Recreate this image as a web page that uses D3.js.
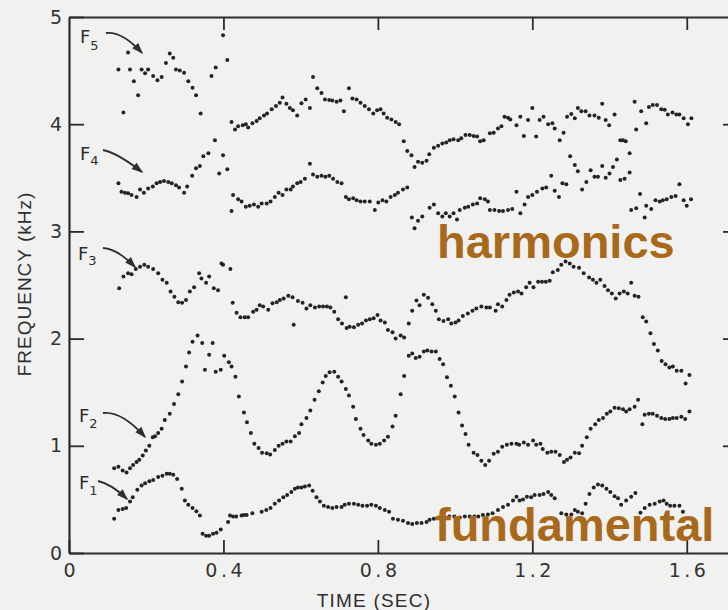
<!DOCTYPE html>
<html>
<head>
<meta charset="utf-8">
<script src="https://cdn.jsdelivr.net/npm/d3@7"></script>
<style>
  html, body { margin: 0; padding: 0; background: #f1f1ef; }
  svg { display: block; }
  .axis .domain { stroke: #2b2b2b; stroke-width: 2.2; }
  .axis .tick line { stroke: #2b2b2b; stroke-width: 1.8; }
  .axis text { font-family: "DejaVu Sans", sans-serif; font-size: 19px; fill: #333; }
  .x-axis text { letter-spacing: 3.5px; }
</style>
</head>
<body>
<div id="chart"></div>
<script>
const X_TICKS = [0, 0.4, 0.8, 1.2, 1.6];
const Y_TICKS = [0, 1, 2, 3, 4, 5];
const X_MAX = 1.712;

// [time (s), frequency (kHz)]
const F1 = [[.117,.32],[.128,.40],[.139,.41],[.148,.42],[.158,.48],[.165,.52],[.177,.59],[.188,.63],[.197,.65],[.208,.67],[.218,.68],[.231,.71],[.242,.72],[.253,.74],[.261,.74],[.270,.73],[.280,.69],[.292,.60],[.300,.49],[.309,.45],[.320,.42],[.330,.39],[.339,.35],[.346,.18],[.355,.16],[.363,.16],[.373,.18],[.382,.19],[.393,.22],[.412,.29],[.417,.35],[.425,.34],[.433,.34],[.447,.35],[.453,.355],[.460,.355],[.475,.37],[.499,.385],[.511,.40],[.522,.42],[.533,.46],[.544,.49],[.555,.52],[.565,.54],[.576,.57],[.585,.60],[.593,.61],[.602,.61],[.611,.62],[.622,.63],[.631,.58],[.641,.52],[.650,.48],[.660,.44],[.671,.43],[.682,.42],[.693,.43],[.706,.43],[.714,.45],[.725,.46],[.738,.46],[.749,.45],[.760,.44],[.772,.44],[.783,.45],[.795,.44],[.805,.42],[.818,.40],[.829,.385],[.839,.32],[.852,.31],[.865,.30],[.878,.28],[.889,.27],[.901,.28],[.913,.28],[.926,.29],[.934,.31],[.945,.32],[.958,.33],[.972,.33],[.985,.34],[.998,.34],[1.012,.33],[1.025,.34],[1.038,.34],[1.05,.34],[1.06,.34],[1.072,.355],[1.085,.36],[1.097,.37],[1.111,.40],[1.124,.43],[1.137,.45],[1.150,.49],[1.159,.525],[1.167,.49],[1.176,.50],[1.186,.525],[1.197,.52],[1.206,.54],[1.219,.54],[1.229,.55],[1.241,.57],[1.249,.54],[1.258,.51],[1.275,.37],[1.288,.36],[1.301,.36],[1.310,.40],[1.318,.385],[1.329,.37],[1.338,.46],[1.348,.55],[1.359,.61],[1.370,.64],[1.381,.63],[1.392,.60],[1.402,.57],[1.413,.53],[1.422,.51],[1.430,.45],[1.443,.49],[1.456,.525],[1.467,.56],[1.480,.375],[1.491,.42],[1.504,.45],[1.517,.46],[1.530,.48],[1.540,.49],[1.548,.46],[1.557,.44],[1.568,.44],[1.581,.44],[1.590,.385],[1.603,.25]];

const F2 = [[.117,.79],[.128,.805],[.139,.77],[.149,.75],[.158,.79],[.166,.82],[.175,.85],[.182,.87],[.191,.91],[.199,.955],[.208,1.00],[.217,1.08],[.223,1.09],[.231,1.12],[.240,1.16],[.248,1.24],[.261,1.30],[.272,1.39],[.283,1.48],[.293,1.60],[.303,1.74],[.311,1.87],[.320,1.97],[.333,2.03],[.345,1.96],[.352,1.71],[.363,1.85],[.372,1.96],[.380,1.69],[.393,1.71],[.402,1.84],[.414,1.78],[.421,1.74],[.431,1.645],[.440,1.46],[.453,1.31],[.461,1.22],[.471,1.12],[.480,1.02],[.491,.98],[.500,.935],[.512,.93],[.521,.92],[.533,.96],[.543,1.00],[.553,1.02],[.563,1.04],[.574,1.04],[.585,1.09],[.596,1.12],[.602,1.20],[.615,1.26],[.625,1.33],[.636,1.43],[.647,1.51],[.657,1.59],[.665,1.65],[.675,1.685],[.687,1.69],[.697,1.645],[.706,1.60],[.717,1.53],[.725,1.47],[.736,1.365],[.743,1.25],[.755,1.16],[.763,1.10],[.775,1.05],[.783,1.02],[.795,1.01],[.805,1.02],[.816,1.05],[.826,1.085],[.838,1.18],[.846,1.28],[.859,1.48],[.868,1.65],[.880,1.84],[.889,1.86],[.898,1.82],[.908,1.83],[.919,1.88],[.928,1.89],[.939,1.88],[.950,1.88],[.960,1.81],[.969,1.76],[.979,1.64],[.989,1.56],[.999,1.46],[1.009,1.31],[1.018,1.19],[1.027,1.11],[1.035,1.01],[1.048,.935],[1.058,.915],[1.068,.86],[1.078,.82],[1.088,.86],[1.100,.925],[1.111,.945],[1.122,.99],[1.134,1.01],[1.146,1.02],[1.159,1.02],[1.166,1.01],[1.178,1.03],[1.189,1.01],[1.202,1.05],[1.210,1.01],[1.221,1.02],[1.227,.97],[1.239,.935],[1.249,.945],[1.260,.945],[1.271,.915],[1.282,.85],[1.290,.87],[1.299,.89],[1.310,.935],[1.321,.93],[1.329,1.00],[1.341,1.08],[1.351,1.16],[1.363,1.20],[1.372,1.24],[1.383,1.26],[1.393,1.30],[1.402,1.32],[1.413,1.355],[1.424,1.35],[1.435,1.34],[1.443,1.32],[1.452,1.34],[1.465,1.365],[1.474,1.43],[1.485,1.20],[1.491,1.29],[1.502,1.30],[1.512,1.30],[1.523,1.28],[1.534,1.26],[1.544,1.25],[1.555,1.25],[1.564,1.26],[1.574,1.26],[1.586,1.27],[1.596,1.25],[1.607,1.32]];

const F3 = [[.130,2.47],[.141,2.58],[.153,2.61],[.162,2.60],[.173,2.65],[.184,2.67],[.195,2.69],[.205,2.67],[.218,2.65],[.231,2.61],[.242,2.55],[.253,2.52],[.263,2.44],[.273,2.39],[.283,2.34],[.293,2.335],[.303,2.36],[.313,2.44],[.324,2.48],[.337,2.61],[.343,2.56],[.355,2.52],[.363,2.58],[.375,2.47],[.386,2.45],[.395,2.70],[.399,2.69],[.418,2.65],[.424,2.335],[.434,2.24],[.444,2.20],[.455,2.20],[.464,2.20],[.477,2.25],[.486,2.27],[.494,2.31],[.503,2.30],[.516,2.27],[.527,2.33],[.538,2.34],[.546,2.36],[.556,2.375],[.568,2.40],[.579,2.385],[.582,2.13],[.593,2.35],[.605,2.335],[.615,2.28],[.625,2.31],[.637,2.29],[.648,2.30],[.658,2.30],[.668,2.30],[.677,2.29],[.687,2.25],[.697,2.18],[.707,2.14],[.717,2.385],[.719,2.10],[.727,2.11],[.738,2.105],[.749,2.13],[.759,2.14],[.769,2.17],[.779,2.18],[.789,2.19],[.799,2.22],[.807,2.17],[.818,2.15],[.826,2.08],[.838,2.06],[.846,2.00],[.859,2.03],[.868,2.01],[.880,2.14],[.889,2.26],[.900,2.355],[.908,2.31],[.919,2.41],[.930,2.38],[.941,2.32],[.950,2.26],[.958,2.18],[.970,2.165],[.982,2.18],[.990,2.14],[1.001,2.15],[1.009,2.17],[1.020,2.21],[1.033,2.235],[1.045,2.26],[1.055,2.28],[1.068,2.30],[1.081,2.29],[1.090,2.29],[1.105,2.26],[1.111,2.32],[1.122,2.30],[1.133,2.36],[1.141,2.41],[1.152,2.43],[1.163,2.44],[1.172,2.42],[1.184,2.48],[1.193,2.52],[1.203,2.48],[1.215,2.53],[1.225,2.53],[1.235,2.53],[1.245,2.54],[1.253,2.62],[1.266,2.64],[1.275,2.69],[1.286,2.72],[1.297,2.70],[1.307,2.67],[1.321,2.66],[1.333,2.61],[1.347,2.57],[1.357,2.55],[1.366,2.52],[1.376,2.55],[1.387,2.49],[1.396,2.45],[1.406,2.42],[1.416,2.375],[1.426,2.42],[1.437,2.44],[1.447,2.42],[1.456,2.52],[1.465,2.40],[1.475,2.39],[1.486,2.20],[1.495,2.16],[1.506,2.05],[1.515,1.95],[1.525,1.89],[1.535,1.79],[1.545,1.76],[1.555,1.73],[1.564,1.74],[1.574,1.70],[1.586,1.70],[1.597,1.58],[1.607,1.66]];

const F4 = [[.128,3.45],[.136,3.37],[.145,3.36],[.153,3.355],[.162,3.34],[.175,3.32],[.184,3.39],[.194,3.36],[.205,3.40],[.217,3.42],[.227,3.45],[.236,3.46],[.246,3.47],[.257,3.46],[.266,3.45],[.277,3.43],[.285,3.41],[.298,3.36],[.306,3.42],[.319,3.52],[.329,3.59],[.339,3.61],[.348,3.70],[.361,3.73],[.378,3.85],[.389,3.54],[.399,3.71],[.410,3.58],[.421,3.19],[.425,3.34],[.438,3.30],[.447,3.28],[.458,3.23],[.468,3.24],[.479,3.25],[.490,3.23],[.499,3.26],[.512,3.26],[.522,3.28],[.533,3.32],[.543,3.36],[.553,3.34],[.563,3.39],[.574,3.39],[.580,3.42],[.591,3.45],[.600,3.46],[.611,3.49],[.624,3.63],[.632,3.53],[.643,3.51],[.654,3.52],[.664,3.51],[.674,3.52],[.684,3.49],[.695,3.46],[.706,3.45],[.717,3.32],[.725,3.30],[.736,3.31],[.745,3.29],[.755,3.28],[.766,3.28],[.779,3.28],[.792,3.20],[.801,3.27],[.812,3.29],[.822,3.28],[.833,3.32],[.844,3.34],[.852,3.36],[.865,3.39],[.876,3.41],[.888,3.13],[.895,3.03],[.904,3.10],[.915,3.14],[.934,3.22],[.945,3.25],[.956,3.17],[.967,3.14],[.976,3.17],[.986,3.14],[.996,3.17],[1.005,3.11],[1.012,3.20],[1.025,3.22],[1.034,3.23],[1.046,3.25],[1.057,3.26],[1.065,3.31],[1.077,3.30],[1.085,3.28],[1.090,3.20],[1.102,3.20],[1.114,3.19],[1.124,3.19],[1.137,3.20],[1.148,3.21],[1.159,3.37],[1.169,3.17],[1.180,3.25],[1.189,3.32],[1.200,3.34],[1.212,3.37],[1.226,3.40],[1.236,3.41],[1.249,3.52],[1.258,3.38],[1.269,3.32],[1.278,3.45],[1.288,3.44],[1.298,3.70],[1.310,3.62],[1.318,3.56],[1.329,3.39],[1.340,3.46],[1.351,3.57],[1.361,3.51],[1.370,3.51],[1.381,3.61],[1.390,3.50],[1.400,3.54],[1.409,3.60],[1.419,3.67],[1.428,3.85],[1.435,3.85],[1.442,3.84],[1.452,3.73],[1.452,3.55],[1.439,3.49],[1.428,3.48],[1.456,3.20],[1.469,3.215],[1.479,3.35],[1.491,3.13],[1.495,3.24],[1.508,3.21],[1.519,3.29],[1.530,3.28],[1.538,3.29],[1.548,3.30],[1.560,3.32],[1.571,3.33],[1.581,3.44],[1.592,3.29],[1.600,3.24],[1.611,3.30]];

const F5 = [[.128,4.51],[.141,4.11],[.153,4.67],[.158,4.51],[.168,4.40],[.179,4.27],[.188,4.51],[.197,4.475],[.205,4.51],[.218,4.45],[.229,4.41],[.240,4.44],[.251,4.57],[.261,4.66],[.270,4.62],[.277,4.51],[.287,4.50],[.298,4.48],[.309,4.40],[.320,4.34],[.329,4.27],[.341,4.10],[.369,4.45],[.380,4.53],[.399,4.83],[.410,4.60],[.421,4.02],[.430,3.95],[.438,3.98],[.450,3.99],[.458,4.00],[.464,3.97],[.475,4.01],[.486,4.03],[.494,4.055],[.505,4.08],[.513,4.10],[.525,4.14],[.536,4.17],[.546,4.20],[.553,4.25],[.563,4.19],[.572,4.15],[.580,4.13],[.591,4.08],[.602,4.195],[.613,4.23],[.624,4.15],[.632,4.44],[.643,4.335],[.654,4.29],[.663,4.23],[.674,4.225],[.682,4.22],[.693,4.21],[.703,4.22],[.712,4.12],[.725,4.335],[.734,4.24],[.745,4.23],[.755,4.20],[.766,4.17],[.777,4.14],[.788,4.10],[.798,4.13],[.807,4.14],[.815,4.10],[.824,4.06],[.835,4.045],[.846,4.02],[.855,4.00],[.867,3.84],[.876,3.75],[.887,3.71],[.895,3.60],[.904,3.65],[.915,3.64],[.926,3.66],[.933,3.72],[.945,3.78],[.956,3.80],[.967,3.82],[.977,3.83],[.986,3.85],[.996,3.86],[1.008,3.85],[1.016,3.87],[1.027,3.90],[1.038,3.90],[1.048,3.89],[1.057,3.885],[1.065,3.84],[1.074,3.85],[1.090,3.915],[1.100,3.92],[1.111,3.96],[1.120,3.98],[1.128,4.07],[1.137,4.06],[1.143,4.045],[1.159,3.99],[1.169,4.07],[1.178,3.89],[1.189,4.04],[1.200,4.15],[1.210,3.885],[1.219,4.04],[1.229,4.07],[1.241,4.00],[1.252,4.01],[1.258,3.96],[1.271,3.85],[1.281,3.92],[1.290,4.07],[1.301,4.095],[1.310,4.055],[1.318,4.15],[1.327,4.12],[1.338,4.12],[1.348,4.08],[1.361,4.08],[1.372,4.06],[1.381,4.19],[1.390,4.04],[1.399,3.99],[1.413,4.09],[1.465,4.21],[1.469,3.95],[1.482,4.12],[1.495,4.01],[1.502,4.16],[1.512,4.18],[1.523,4.18],[1.534,4.14],[1.543,4.135],[1.551,4.09],[1.563,4.11],[1.573,4.09],[1.581,4.09],[1.592,4.055],[1.603,4.00],[1.612,4.055]];

const FORMANTS = [F1, F2, F3, F4, F5];
const FORMANT_NAMES = ["1", "2", "3", "4", "5"];

const W = 728, H = 610;
const inkColor = "#242424";
const brown = "#a8691c";
const labelFont = "DejaVu Sans, sans-serif";

const svg = d3.select("#chart").append("svg")
  .attr("width", W)
  .attr("height", H);

svg.append("rect").attr("width", W).attr("height", H).attr("fill", "#f1f1ef");

const x = d3.scaleLinear().domain([0, X_MAX]).range([69, 730]);
const y = d3.scaleLinear().domain([0, 5]).range([553, 17]);

// frame + ticks (all ticks point inward)
svg.append("g")
  .attr("class", "axis x-axis")
  .attr("transform", `translate(0,${y(0)})`)
  .call(d3.axisBottom(x).tickValues(X_TICKS).tickSizeInner(-13).tickSizeOuter(0).tickPadding(11)
    .tickFormat(d => d === 0 ? "0" : d.toFixed(1)))
  .selectAll("text")
  .attr("dx", "1.75px");

svg.append("g")
  .attr("class", "axis")
  .attr("transform", `translate(0,${y(5)})`)
  .call(d3.axisTop(x).tickValues(X_TICKS.slice(1)).tickSizeInner(-13).tickSizeOuter(0).tickFormat(""));

svg.append("g")
  .attr("class", "axis")
  .attr("transform", `translate(${x(0)},0)`)
  .call(d3.axisLeft(y).tickValues(Y_TICKS).tickSizeInner(-15).tickSizeOuter(0).tickPadding(7)
    .tickFormat(d3.format("d")));

svg.append("g")
  .attr("class", "axis")
  .attr("transform", `translate(${x(X_MAX)},0)`)
  .call(d3.axisRight(y).tickValues(Y_TICKS.slice(1, 5)).tickSizeInner(-7).tickSizeOuter(0).tickFormat(""));

// axis titles
svg.append("text")
  .attr("x", 374)
  .attr("y", 607)
  .attr("text-anchor", "middle")
  .attr("font-family", "Liberation Sans, Arial, sans-serif")
  .attr("font-size", "19px")
  .attr("letter-spacing", "1.2px")
  .attr("fill", "#2e2e2e")
  .text("TIME (SEC)");

svg.append("text")
  .attr("transform", "translate(31,284) rotate(-90)")
  .attr("text-anchor", "middle")
  .attr("font-family", "Liberation Sans, Arial, sans-serif")
  .attr("font-size", "19px")
  .attr("letter-spacing", "1px")
  .attr("fill", "#2e2e2e")
  .text("FREQUENCY (kHz)");

// dots
const dots = svg.append("g");
FORMANTS.forEach(series => {
  dots.selectAll(null)
    .data(series)
    .enter()
    .append("circle")
    .attr("cx", d => x(d[0]))
    .attr("cy", d => y(d[1]))
    .attr("r", 2)
    .attr("fill", inkColor);
});

// formant labels with curved arrows
const labelPos = [
  { x: 79, y: 489, sub: 6, a: [[98, 481], [112, 487], [127, 499]] },
  { x: 79, y: 422, sub: 6, a: [[103, 413], [123, 418], [145, 437]] },
  { x: 78, y: 260, sub: 5, a: [[103, 248], [118, 253], [135, 267]] },
  { x: 80, y: 160, sub: 5, a: [[103, 150], [120, 157], [142, 172]] },
  { x: 80, y: 43, sub: 7, a: [[106, 33], [123, 37], [142, 53]] }
];

labelPos.forEach((p, i) => {
  const t = svg.append("text")
    .attr("x", p.x)
    .attr("y", p.y)
    .attr("font-family", labelFont)
    .attr("font-size", "18px")
    .attr("fill", "#2e2e2e")
    .text("F");
  t.append("tspan")
    .attr("dy", p.sub)
    .attr("font-size", "13px")
    .text(FORMANT_NAMES[i]);

  const [p0, m, p2] = p.a;
  const c = [2 * m[0] - (p0[0] + p2[0]) / 2, 2 * m[1] - (p0[1] + p2[1]) / 2];
  const path = d3.path();
  path.moveTo(p0[0], p0[1]);
  path.quadraticCurveTo(c[0], c[1], p2[0], p2[1]);
  svg.append("path")
    .attr("d", path.toString())
    .attr("fill", "none")
    .attr("stroke", "#2e2e2e")
    .attr("stroke-width", 1.8);

  const ang = Math.atan2(p2[1] - c[1], p2[0] - c[0]);
  const len = 10, hw = 4;
  const bx = p2[0] - len * Math.cos(ang), by = p2[1] - len * Math.sin(ang);
  svg.append("path")
    .attr("d", `M${p2[0] + 1.5 * Math.cos(ang)},${p2[1] + 1.5 * Math.sin(ang)}` +
      `L${bx - hw * Math.sin(ang)},${by + hw * Math.cos(ang)}` +
      `L${bx + hw * Math.sin(ang)},${by - hw * Math.cos(ang)}Z`)
    .attr("fill", "#2e2e2e");
});

// overlay labels
svg.append("text")
  .attr("x", 437)
  .attr("y", 258)
  .attr("font-family", "Liberation Sans, Arial, sans-serif")
  .attr("font-weight", "bold")
  .attr("font-size", "47px")
  .attr("fill", brown)
  .text("harmonics");

svg.append("text")
  .attr("x", 435)
  .attr("y", 541)
  .attr("font-family", "Liberation Sans, Arial, sans-serif")
  .attr("font-weight", "bold")
  .attr("font-size", "47px")
  .attr("fill", brown)
  .text("fundamental");
</script>
</body>
</html>
